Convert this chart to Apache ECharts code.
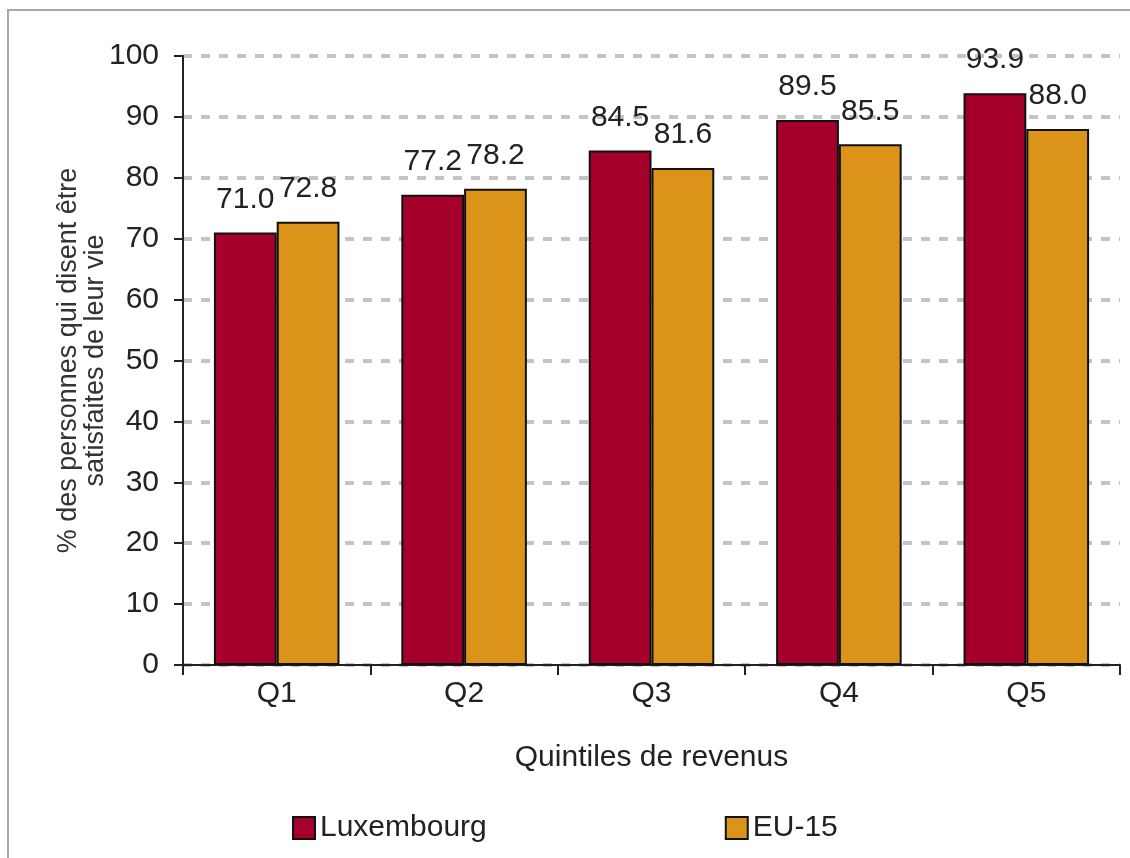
<!DOCTYPE html>
<html>
<head>
<meta charset="utf-8">
<script src="https://cdn.jsdelivr.net/npm/echarts@6/dist/echarts.min.js"></script>
<style>
  html, body { margin: 0; padding: 0; background: #fff; }
  #chart { width: 1130px; height: 858px; }
</style>
</head>
<body>
<div id="chart"></div>
<script>
// données
const categories = ['Q1', 'Q2', 'Q3', 'Q4', 'Q5'];
const luxembourg = [71.0, 77.2, 84.5, 89.5, 93.9];
const eu15 = [72.8, 78.2, 81.6, 85.5, 88.0];

const font = 'Liberation Sans, Arial, sans-serif';

const chart = echarts.init(document.getElementById('chart'));
const option = {
  animation: false,
  textStyle: { fontFamily: font },
  graphic: [{
    type: 'rect',
    shape: { x: 8, y: 10, width: 1130, height: 860 },
    style: { fill: 'none', stroke: '#a8a8a8', lineWidth: 2 },
    z: -1
  }],
  grid: { left: 183, right: 10, top: 56, bottom: 193 },
  legend: {
    data: ['Luxembourg', 'EU-15'],
    top: 808,
    left: 287,
    icon: 'rect',
    itemGap: 238,
    itemWidth: 22,
    itemHeight: 22,
    textStyle: { fontSize: 30, color: '#222', fontFamily: font }
  },
  xAxis: {
    type: 'category',
    data: categories,
    name: 'Quintiles de revenus',
    nameLocation: 'middle',
    nameGap: 78,
    nameMoveOverlap: false,
    nameTextStyle: { fontSize: 30, color: '#222' },
    axisLine: { lineStyle: { color: '#222', width: 2 } },
    axisTick: { show: true, length: 10, lineStyle: { color: '#222', width: 2 } },
    axisLabel: { fontSize: 30, color: '#222', margin: 14 }
  },
  yAxis: {
    type: 'value',
    min: 0,
    max: 100,
    interval: 10,
    name: '% des personnes qui disent être\nsatisfaites de leur vie',
    nameLocation: 'middle',
    nameGap: 74,
    nameMoveOverlap: false,
    nameTextStyle: { fontSize: 27, color: '#333', lineHeight: 27 },
    axisLine: { show: true, lineStyle: { color: '#222', width: 2 } },
    axisTick: { show: true, length: 9, lineStyle: { color: '#222', width: 2 } },
    axisLabel: { fontSize: 30, color: '#222', margin: 24 },
    splitLine: {
      show: true,
      lineStyle: { color: '#c4c4c4', width: 4, type: [9, 9] }
    }
  },
  series: [
    {
      name: 'Luxembourg',
      type: 'bar',
      data: luxembourg,
      barGap: '0%',
      barCategoryGap: '33%',
      itemStyle: { color: '#a5002b', borderColor: '#111', borderWidth: 2 },
      label: {
        show: true, position: 'top', distance: 18, fontSize: 30, color: '#222',
        formatter: p => p.value.toFixed(1)
      }
    },
    {
      name: 'EU-15',
      type: 'bar',
      data: eu15,
      itemStyle: { color: '#db931a', borderColor: '#111', borderWidth: 2 },
      label: {
        show: true, position: 'top', distance: 18, fontSize: 30, color: '#222',
        formatter: p => p.value.toFixed(1)
      }
    }
  ]
};
chart.setOption(option);
</script>
</body>
</html>
